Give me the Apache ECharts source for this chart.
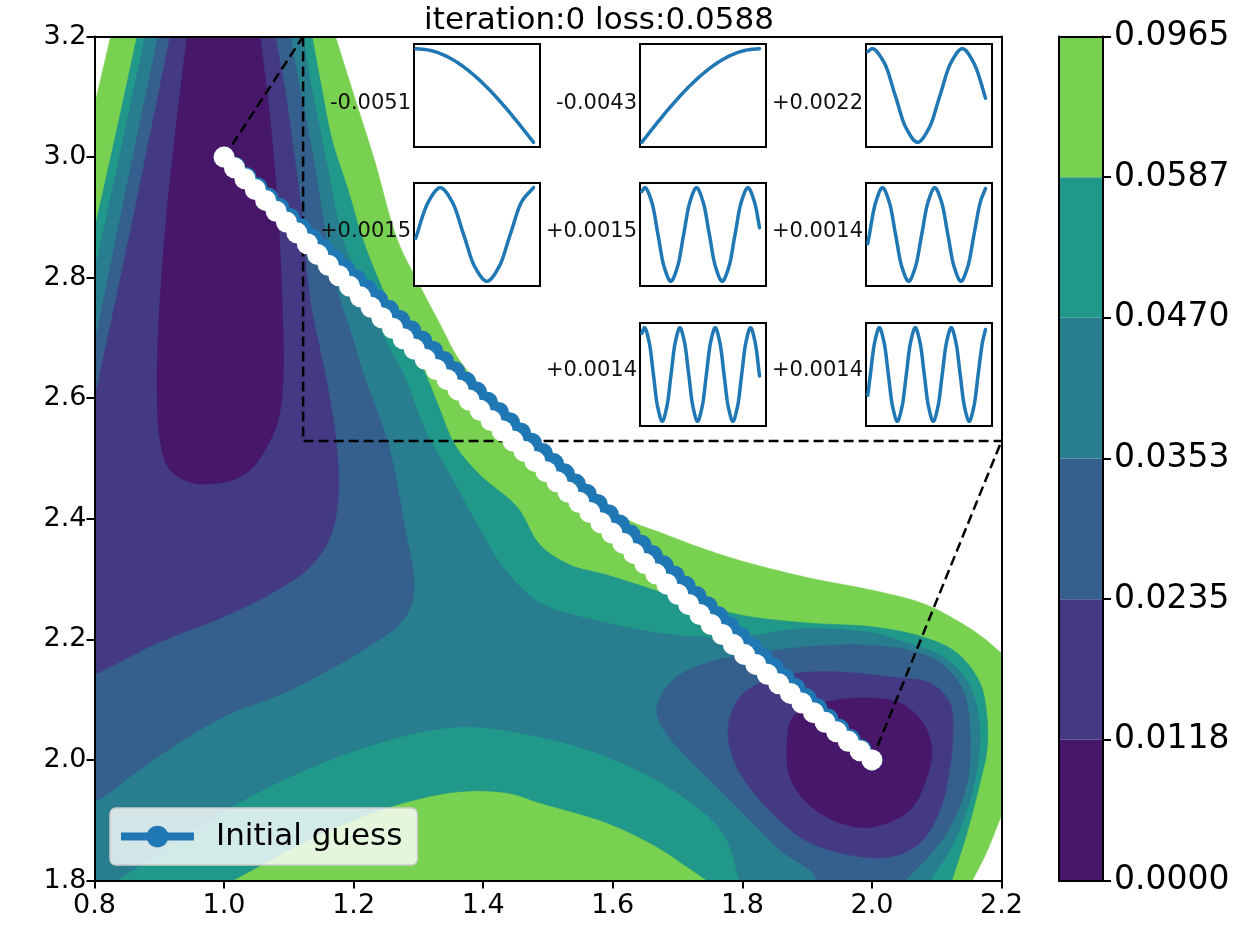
<!DOCTYPE html>
<html><head><meta charset="utf-8">
<script src="https://cdn.jsdelivr.net/npm/echarts@6/dist/echarts.min.js"></script>
<style>html,body{margin:0;padding:0;background:#fff}#c{width:1258px;height:937px}</style>
</head><body><div id="c"></div>
<script>
// ---------- data ----------
const titleText = 'iteration:0 loss:0.0588';
const levelLabels = ['0.0000','0.0118','0.0235','0.0353','0.0470','0.0587','0.0965'];
const bandColors = ['#47176a','#443a83','#355f8d','#287d8e','#20998a','#79d151'];

// contour regions (data coordinates): area where the loss is below a level
const plotRect = [[0.8,1.8],[2.2,1.8],[2.2,3.2],[0.8,3.2]];
const whiteTopLeft = [[0.8,3.2],[0.824,3.2],[0.8,3.09]];
const whiteUpperRight = [[1.1728,3.2],[1.2022,3.0995],[1.2330,2.995],[1.2685,2.8624],[1.3025,2.7877],[1.3333,2.7247],[1.3642,2.6633],[1.4151,2.6003],[1.4769,2.5390],[1.5370,2.4776],[1.6173,2.4030],[1.6775,2.3765],[1.7346,2.3533],[1.7963,2.3318],[1.8997,2.3036],[2.0015,2.2821],[2.0787,2.2605],[2.1312,2.2323],[2.1713,2.2041],[2.2,2.1776],[2.2,3.2]];
const whiteBottomRight = [[2.2,1.9055],[2.1775,1.846],[2.1559,1.8],[2.2,1.8]];
const below0587 = [[0.8657,3.2],[1.1358,3.2],[1.1512,3.1111],[1.1667,3.0282],[1.1914,2.9453],[1.2145,2.8624],[1.2454,2.7794],[1.2762,2.7131],[1.3102,2.6418],[1.3333,2.5804],[1.3565,2.5224],[1.3951,2.4726],[1.4522,2.4196],[1.4877,2.3566],[1.5340,2.3234],[1.5911,2.3068],[1.6929,2.2720],[1.7963,2.2405],[1.8997,2.2272],[2.0015,2.2206],[2.0787,2.2040],[2.1312,2.1774],[2.1667,2.1277],[2.1775,2.0713],[2.1775,2.0166],[2.1667,1.9619],[2.1466,1.8789],[2.1235,1.8],[1.7454,1.8],[1.7037,1.8308],[1.6682,1.8557],[1.5911,1.8955],[1.4877,1.9287],[1.4367,1.9453],[1.3596,1.9470],[1.2562,1.9221],[1.1528,1.8789],[1.0864,1.8425],[1.0139,1.8],[0.8,1.8],[0.8,2.88],[0.8333,3.0398]];
const below0470 = [[0.8781,3.2],[1.1219,3.2],[1.1327,3.1277],[1.1451,3.0614],[1.1605,2.9785],[1.1836,2.8624],[1.2145,2.7795],[1.2485,2.6965],[1.2762,2.6418],[1.3102,2.5473],[1.3488,2.4726],[1.3951,2.3814],[1.4336,2.3151],[1.4877,2.2604],[1.5911,2.2272],[1.6929,2.2073],[1.7963,2.2040],[1.8889,2.2173],[2.0015,2.2106],[2.0432,2.1974],[2.1049,2.1741],[2.1405,2.1410],[2.1590,2.0995],[2.1667,2.0448],[2.1620,1.9834],[2.1466,1.9171],[2.1204,1.8507],[2.0895,1.8],[1.7963,1.8],[1.7700,1.8789],[1.6929,1.9503],[1.5911,2.0050],[1.4877,2.0381],[1.3596,2.0547],[1.2052,2.0166],[1.0509,1.9453],[0.9475,1.8789],[0.8349,1.8],[0.8,1.8],[0.8,2.81],[0.8395,3.005]];
const below0353Left = [[0.8981,3.2],[1.1019,3.2],[1.1173,3.1111],[1.1327,3.0282],[1.1481,2.9287],[1.1636,2.8292],[1.1790,2.7629],[1.1944,2.7131],[1.2145,2.6418],[1.2515,2.5307],[1.2685,2.4478],[1.2824,2.3649],[1.2917,2.3151],[1.2917,2.2703],[1.2762,2.2322],[1.2145,2.1824],[1.1019,2.1161],[0.9985,2.0713],[0.8966,2.0050],[0.804,1.9337],[0.8,1.9337],[0.8,2.6899],[0.8488,2.9453]];
const below0353Right = [[1.6682,2.0879],[1.6728,2.0614],[1.7037,2.0166],[1.7546,1.9619],[1.8071,1.9055],[1.8580,1.8507],[1.9090,1.8126],[1.9151,1.8],[2.0509,1.8],[2.0895,1.8425],[2.1204,1.8889],[2.1466,1.9619],[2.1512,2.0448],[2.1405,2.1161],[2.1049,2.1609],[2.0540,2.1824],[1.9768,2.1907],[1.8997,2.1874],[1.8225,2.1774],[1.7454,2.1609],[1.6929,2.1327]];
const below0235Left = [[0.9167,3.2],[1.0787,3.2],[1.0941,3.1111],[1.1049,3.0282],[1.1173,2.9287],[1.1327,2.7629],[1.1481,2.6799],[1.1636,2.5970],[1.1744,2.5141],[1.1759,2.4312],[1.1636,2.3698],[1.1327,2.3201],[1.0818,2.2819],[0.9985,2.2372],[0.8966,2.1940],[0.804,2.1443],[0.8,2.1443],[0.8,2.5970],[0.8596,2.8989]];
const below0235Right = [[1.7778,2.0498],[1.7963,2.1045],[1.8380,2.1327],[1.8889,2.1443],[1.9506,2.1459],[2.0278,2.1376],[2.0895,2.1277],[2.1204,2.0945],[2.1250,2.0448],[2.1204,1.9884],[2.1049,1.9171],[2.0741,1.8624],[2.0278,1.8391],[1.9506,1.8458],[1.8889,1.8723],[1.8271,1.9337],[1.7917,1.9884]];
const below0118Top = [[0.9429,3.2],[0.9290,3.0780],[0.9136,2.9287],[0.9012,2.7629],[0.8966,2.6302],[0.9012,2.5307],[0.9167,2.4809],[0.9475,2.4610],[0.9784,2.4577],[1.0123,2.4644],[1.0401,2.4809],[1.0633,2.5141],[1.0833,2.5639],[1.0910,2.6302],[1.0895,2.7629],[1.0818,2.9287],[1.0710,3.0614],[1.0556,3.2]];
const below0118Right = [[1.8688,2.0166],[1.8781,2.0713],[1.9244,2.0945],[1.9815,2.1028],[2.0432,2.0945],[2.0787,2.0614],[2.0926,2.0166],[2.0849,1.9718],[2.0586,1.9171],[2.0015,1.8889],[1.9506,1.8955],[1.8997,1.9287],[1.8734,1.9718]];

// paths
const guessX = [1.0000,1.0169,1.0339,1.0508,1.0678,1.0847,1.1017,1.1186,1.1356,1.1525,1.1695,1.1864,1.2034,1.2203,1.2373,1.2542,1.2712,1.2881,1.3051,1.3220,1.3390,1.3559,1.3729,1.3898,1.4068,1.4237,1.4407,1.4576,1.4746,1.4915,1.5085,1.5254,1.5424,1.5593,1.5763,1.5932,1.6102,1.6271,1.6441,1.6610,1.6780,1.6949,1.7119,1.7288,1.7458,1.7627,1.7797,1.7966,1.8136,1.8305,1.8475,1.8644,1.8814,1.8983,1.9153,1.9322,1.9492,1.9661,1.9831,2.0000];
const guessY = [3.0000,2.9831,2.9661,2.9492,2.9322,2.9153,2.8983,2.8814,2.8644,2.8475,2.8305,2.8136,2.7966,2.7797,2.7627,2.7458,2.7288,2.7119,2.6949,2.6780,2.6610,2.6441,2.6271,2.6102,2.5932,2.5763,2.5593,2.5424,2.5254,2.5085,2.4915,2.4746,2.4576,2.4407,2.4237,2.4068,2.3898,2.3729,2.3559,2.3390,2.3220,2.3051,2.2881,2.2712,2.2542,2.2373,2.2203,2.2034,2.1864,2.1695,2.1525,2.1356,2.1186,2.1017,2.0847,2.0678,2.0508,2.0339,2.0169,2.0000];
const currentX = [1.0000,1.0160,1.0321,1.0482,1.0642,1.0803,1.0963,1.1124,1.1285,1.1445,1.1609,1.1773,1.1938,1.2103,1.2269,1.2435,1.2601,1.2765,1.2935,1.3104,1.3274,1.3443,1.3613,1.3782,1.3952,1.4121,1.4291,1.4460,1.4630,1.4799,1.4969,1.5138,1.5308,1.5477,1.5647,1.5816,1.5986,1.6155,1.6325,1.6494,1.6664,1.6833,1.7003,1.7172,1.7345,1.7518,1.7691,1.7861,1.8034,1.8208,1.8385,1.8562,1.8742,1.8919,1.9098,1.9276,1.9455,1.9634,1.9817,2.0000];
const currentY = [3.0000,2.9821,2.9640,2.9462,2.9281,2.9102,2.8921,2.8743,2.8562,2.8383,2.8206,2.8031,2.7856,2.7682,2.7507,2.7335,2.7160,2.6986,2.6816,2.6647,2.6477,2.6308,2.6138,2.5969,2.5799,2.5630,2.5460,2.5291,2.5121,2.4952,2.4782,2.4613,2.4443,2.4274,2.4104,2.3935,2.3765,2.3596,2.3426,2.3257,2.3087,2.2918,2.2748,2.2579,2.2411,2.2247,2.2081,2.1913,2.1747,2.1584,2.1421,2.1262,2.1103,2.0943,2.0784,2.0625,2.0466,2.0308,2.0153,2.0000];

// zoom indicator
const zoomBoxX = [1.122, 1.122, 2.2];
const zoomBoxY = [3.2, 2.529, 2.529];
const connectorA = [[1.0, 3.0], [1.122, 3.2]];
const connectorB = [[2.0, 2.0], [2.2, 2.529]];

// inset curves [t, value]
const insetLabels = ['-0.0051','-0.0043','+0.0022','+0.0015','+0.0015','+0.0014','+0.0014','+0.0014'];
const curveA = [[0,1],[0.125,0.9825],[0.25,0.9305],[0.375,0.8459],[0.5,0.7317],[0.625,0.5921],[0.75,0.4312],[0.875,0.2555],[1,0.0707]];
const curveB = [[0,0.0707],[0.125,0.2555],[0.25,0.4312],[0.375,0.5921],[0.5,0.7317],[0.625,0.8459],[0.75,0.9305],[0.875,0.9825],[1,1]];
const curveC = [[0,0.937],[0.0432,1],[0.1382,0.707],[0.2331,0],[0.3281,-0.707],[0.4231,-1],[0.5181,-0.707],[0.6130,0],[0.7080,0.707],[0.8030,1],[0.8980,0.707],[0.9929,0],[1,-0.06]];
const curveD = [[0,-0.079],[0.0100,0],[0.1090,0.707],[0.2081,1],[0.3071,0.707],[0.4062,0],[0.5052,-0.707],[0.6042,-1],[0.7033,-0.707],[0.8023,0],[0.9014,0.707],[1,1]];
const curveE = [[0,0.917],[0.0285,1],[0.0830,0.707],[0.1376,0],[0.1921,-0.707],[0.2467,-1],[0.3012,-0.707],[0.3557,0],[0.4103,0.707],[0.4648,1],[0.5194,0.707],[0.5739,0],[0.6285,-0.707],[0.6830,-1],[0.7375,-0.707],[0.7921,0],[0.8466,0.707],[0.9012,1],[0.9557,0.707],[1,0.146]];
const curveF = [[0,-0.198],[0.0141,0],[0.0696,0.707],[0.1251,1],[0.1806,0.707],[0.2361,0],[0.2916,-0.707],[0.3471,-1],[0.4026,-0.707],[0.4581,0],[0.5136,0.707],[0.5691,1],[0.6246,0.707],[0.6801,0],[0.7357,-0.707],[0.7912,-1],[0.8467,-0.707],[0.9022,0],[0.9577,0.707],[1,0.983]];
const curveG = [[0,0.878],[0.0239,1],[0.0614,0.707],[0.0989,0],[0.1363,-0.707],[0.1738,-1],[0.2113,-0.707],[0.2488,0],[0.2863,0.707],[0.3238,1],[0.3613,0.707],[0.3988,0],[0.4363,-0.707],[0.4737,-1],[0.5112,-0.707],[0.5487,0],[0.5862,0.707],[0.6237,1],[0.6612,0.707],[0.6987,0],[0.7362,-0.707],[0.7737,-1],[0.8111,-0.707],[0.8486,0],[0.8861,0.707],[0.9236,1],[0.9611,0.707],[1,-0.03]];
const curveH = [[0,-0.443],[0.0223,0],[0.0604,0.707],[0.0985,1],[0.1366,0.707],[0.1748,0],[0.2129,-0.707],[0.2510,-1],[0.2892,-0.707],[0.3273,0],[0.3654,0.707],[0.4035,1],[0.4417,0.707],[0.4798,0],[0.5179,-0.707],[0.5561,-1],[0.5942,-0.707],[0.6323,0],[0.6705,0.707],[0.7086,1],[0.7467,0.707],[0.7848,0],[0.8230,-0.707],[0.8611,-1],[0.8992,-0.707],[0.9374,0],[0.9755,0.707],[1,0.961]];

// ---------- layout ----------
const FONT = 'DejaVu Sans';
const main = {left: 94.5, top: 36.5, width: 907, height: 844};
const cbar = {left: 1059, top: 36.5, width: 44, height: 844};
const insetCol = [414, 640, 866];
const insetRow = [44, 183, 323];
const insetW = 126, insetH = 103;
const insetLabelY = [104, 232, 371];
const insetPlace = [[0,0],[0,1],[0,2],[1,0],[1,1],[1,2],[2,1],[2,2]];
const insetCurves = [curveA, curveB, curveC, curveD, curveE, curveF, curveG, curveH];

const contourLayers = [
  {pts: plotRect, color: bandColors[5]},
  {pts: whiteTopLeft, color: '#ffffff'},
  {pts: whiteUpperRight, color: '#ffffff'},
  {pts: whiteBottomRight, color: '#ffffff'},
  {pts: below0587, color: bandColors[4]},
  {pts: below0470, color: bandColors[3]},
  {pts: below0353Left, color: bandColors[2]},
  {pts: below0353Right, color: bandColors[2]},
  {pts: below0235Left, color: bandColors[1]},
  {pts: below0235Right, color: bandColors[1]},
  {pts: below0118Top, color: bandColors[0]},
  {pts: below0118Right, color: bandColors[0]}
];

// ---------- drawing helpers (smooth outlines, centripetal Catmull-Rom) ----------
function onFrame(p) {
  return Math.abs(p[0]-0.8) < 1e-9 || Math.abs(p[0]-2.2) < 1e-9 || Math.abs(p[1]-1.8) < 1e-9 || Math.abs(p[1]-3.2) < 1e-9;
}
function crSegment(P0, P1, P2, P3, steps, out) {
  const d = (a, b) => Math.max(Math.pow(Math.hypot(b[0]-a[0], b[1]-a[1]), 0.5), 1e-4);
  const t0 = 0, t1 = t0 + d(P0, P1), t2 = t1 + d(P1, P2), t3 = t2 + d(P2, P3);
  const lerp = (A, B, ta, tb, t) => [(tb-t)/(tb-ta)*A[0] + (t-ta)/(tb-ta)*B[0], (tb-t)/(tb-ta)*A[1] + (t-ta)/(tb-ta)*B[1]];
  for (let s = 0; s < steps; s++) {
    const t = t1 + (t2 - t1) * s / steps;
    const A1 = lerp(P0, P1, t0, t1, t), A2 = lerp(P1, P2, t1, t2, t), A3 = lerp(P2, P3, t2, t3, t);
    const B1 = lerp(A1, A2, t0, t2, t), B2 = lerp(A2, A3, t1, t3, t);
    out.push(lerp(B1, B2, t1, t2, t));
  }
}
const refl = (a, b) => [2*a[0]-b[0], 2*a[1]-b[1]];
function smoothRing(pts, api) {
  const n = pts.length, P = pts.map(p => api.coord(p)), out = [];
  for (let i = 0; i < n; i++) {
    const h = (i-1+n)%n, j = (i+1)%n, k = (j+1)%n;
    if (onFrame(pts[i]) && onFrame(pts[j])) { out.push(P[i]); continue; }
    const P0 = (onFrame(pts[i]) && onFrame(pts[h])) ? refl(P[i], P[j]) : P[h];
    const P3 = (onFrame(pts[j]) && onFrame(pts[k])) ? refl(P[j], P[i]) : P[k];
    crSegment(P0, P[i], P[j], P3, 12, out);
  }
  return out;
}
function smoothOpen(pts, api) {
  const P = pts.map(p => api.coord(p)), n = P.length, out = [];
  const ext0 = refl(P[0], P[1]);
  const extN = refl(P[n-1], P[n-2]);
  for (let i = 0; i < n - 1; i++) {
    crSegment(i === 0 ? ext0 : P[i-1], P[i], P[i+1], i + 2 < n ? P[i+2] : extN, 10, out);
  }
  out.push(P[n-1]);
  return out;
}

const zip = (xs, ys) => xs.map((x, i) => [x, ys[i]]);
const axisLineStyle = {color: '#000', width: 2};
const tickLbl = {fontSize: 27, fontFamily: FONT, color: '#000'};
const cbarLbl = {fontSize: 33, fontFamily: FONT, color: '#000'};

const grids = [
  Object.assign({show: false}, main),
  Object.assign({show: false}, cbar)
];
const hiddenAxisParts = {axisTick: {show: false}, axisLabel: {show: false}, splitLine: {show: false}};
const xAxes = [
  {type: 'value', gridIndex: 0, min: 0.8, max: 2.2, interval: 0.2, position: 'bottom', z: 10,
   axisLine: {show: true, onZero: false, lineStyle: axisLineStyle},
   axisTick: {show: true, length: 8, lineStyle: axisLineStyle},
   axisLabel: Object.assign({margin: 12, formatter: v => v.toFixed(1)}, tickLbl),
   splitLine: {show: false}},
  Object.assign({type: 'value', gridIndex: 0, min: 0.8, max: 2.2, position: 'top', z: 10,
   axisLine: {show: true, onZero: false, lineStyle: axisLineStyle}}, hiddenAxisParts),
  Object.assign({type: 'value', gridIndex: 1, min: 0, max: 1, position: 'bottom', z: 10,
   axisLine: {show: true, onZero: false, lineStyle: axisLineStyle}}, hiddenAxisParts),
  Object.assign({type: 'value', gridIndex: 1, min: 0, max: 1, position: 'top', z: 10,
   axisLine: {show: true, onZero: false, lineStyle: axisLineStyle}}, hiddenAxisParts)
];
const yAxes = [
  {type: 'value', gridIndex: 0, min: 1.8, max: 3.2, interval: 0.2, position: 'left', z: 10,
   axisLine: {show: true, onZero: false, lineStyle: axisLineStyle},
   axisTick: {show: true, length: 8, lineStyle: axisLineStyle},
   axisLabel: Object.assign({margin: 8, formatter: v => v.toFixed(1)}, tickLbl),
   splitLine: {show: false}},
  Object.assign({type: 'value', gridIndex: 0, min: 1.8, max: 3.2, position: 'right', z: 10,
   axisLine: {show: true, onZero: false, lineStyle: axisLineStyle}}, hiddenAxisParts),
  Object.assign({type: 'value', gridIndex: 1, min: 0, max: 6, position: 'left', z: 10,
   axisLine: {show: true, onZero: false, lineStyle: axisLineStyle}}, hiddenAxisParts),
  {type: 'value', gridIndex: 1, min: 0, max: 6, interval: 1, position: 'right', z: 10,
   axisLine: {show: true, onZero: false, lineStyle: axisLineStyle},
   axisTick: {show: true, length: 8, lineStyle: axisLineStyle},
   axisLabel: Object.assign({margin: 11, formatter: v => levelLabels[Math.round(v)]}, cbarLbl),
   splitLine: {show: false}}
];

const dashStyle = {color: '#000', width: 2.5, type: [10, 5]};
const series = [
  {type: 'custom', xAxisIndex: 0, yAxisIndex: 0, z: 1, silent: true, clip: true,
   data: contourLayers.map((l, i) => [l.pts[0][0], l.pts[0][1], i]),
   encode: {x: 0, y: 1},
   renderItem: (params, api) => {
     const L = contourLayers[api.value(2)];
     return {type: 'polygon', shape: {points: smoothRing(L.pts, api)},
             style: {fill: L.color, stroke: L.color, lineWidth: 0.6}};
   }},
  {type: 'custom', xAxisIndex: 2, yAxisIndex: 2, z: 1, silent: true,
   data: bandColors.map((c, i) => [0, i, i + 1]),
   encode: {x: 0, y: 1},
   renderItem: (params, api) => {
     const p0 = api.coord([0, api.value(1)]);
     const p1 = api.coord([1, api.value(2)]);
     return {type: 'rect', shape: {x: p0[0], y: p1[1], width: p1[0] - p0[0], height: p0[1] - p1[1]},
             style: {fill: bandColors[params.dataIndex]}};
   }},
  {type: 'line', xAxisIndex: 0, yAxisIndex: 0, z: 3, silent: true, symbol: 'none',
   data: zip(zoomBoxX, zoomBoxY), lineStyle: dashStyle},
  {type: 'line', xAxisIndex: 0, yAxisIndex: 0, z: 3, silent: true, symbol: 'none',
   data: connectorA, lineStyle: dashStyle},
  {type: 'line', xAxisIndex: 0, yAxisIndex: 0, z: 3, silent: true, symbol: 'none',
   data: connectorB, lineStyle: dashStyle},
  {type: 'line', name: 'Initial guess', xAxisIndex: 0, yAxisIndex: 0, z: 4, silent: true,
   data: zip(guessX, guessY), symbol: 'circle', symbolSize: 21, showSymbol: true,
   lineStyle: {color: '#1f77b4', width: 8}, itemStyle: {color: '#1f77b4'}},
  {type: 'line', name: 'current', xAxisIndex: 0, yAxisIndex: 0, z: 5, silent: true,
   data: zip(currentX, currentY), symbol: 'circle', symbolSize: 21, showSymbol: true,
   lineStyle: {color: '#ffffff', width: 8}, itemStyle: {color: '#ffffff'}}
];

const graphics = [
  {type: 'text', x: 599, y: 21, z: 30, silent: true,
   style: {text: titleText, fontSize: 31, fontFamily: FONT, fill: '#000', align: 'center', verticalAlign: 'middle', textAlign: 'center', textVerticalAlign: 'middle'}}
];

insetCurves.forEach((curve, k) => {
  const [r, c] = insetPlace[k];
  const gi = grids.length;
  grids.push({show: true, left: insetCol[c], top: insetRow[r], width: insetW, height: insetH,
              backgroundColor: '#fff', borderColor: '#000', borderWidth: 2, z: 20});
  const vals = curve.map(p => p[1]);
  const lo = Math.min(...vals), hi = Math.max(...vals), pad = (hi - lo) * 0.05;
  const xi = xAxes.length, yi = yAxes.length;
  xAxes.push({type: 'value', gridIndex: gi, min: -0.015, max: 1.055, show: false});
  yAxes.push({type: 'value', gridIndex: gi, min: lo - pad, max: hi + pad, show: false});
  series.push({type: 'custom', xAxisIndex: xi, yAxisIndex: yi, z: 21, silent: true, clip: false,
    data: curve, encode: {x: 0, y: 1},
    renderItem: (params, api) => {
      if (params.dataIndex !== 0) return null;
      return {type: 'polyline', shape: {points: smoothOpen(curve, api)},
              style: {stroke: '#1f77b4', lineWidth: 3.5, fill: null, lineJoin: 'round', lineCap: 'round'}};
    }});
  graphics.push({type: 'text', x: insetCol[c] - 3, y: insetLabelY[r], z: 30, silent: true,
    style: {text: insetLabels[k], fontSize: 21, fontFamily: FONT, fill: '#111', align: 'right', verticalAlign: 'middle', textAlign: 'right', textVerticalAlign: 'middle'}});
});

const option = {
  animation: false,
  backgroundColor: '#ffffff',
  graphic: graphics,
  legend: {show: true, data: ['Initial guess'], left: 110, top: 808, orient: 'horizontal',
    padding: [13, 15, 13, 7], backgroundColor: 'rgba(255,255,255,0.8)', borderColor: '#cccccc',
    borderWidth: 1.5, borderRadius: 6, itemWidth: 73, itemHeight: 27, z: 15,
    itemStyle: {color: '#1f77b4'}, lineStyle: {width: 8, color: '#1f77b4'},
    textStyle: {fontSize: 31, fontFamily: FONT, color: '#000', padding: [0, 0, 0, 17]}},
  grid: grids,
  xAxis: xAxes,
  yAxis: yAxes,
  series: series
};

const chart = echarts.init(document.getElementById('c'), null, {renderer: 'canvas', width: 1258, height: 937});
chart.setOption(option);
</script>
</body></html>
